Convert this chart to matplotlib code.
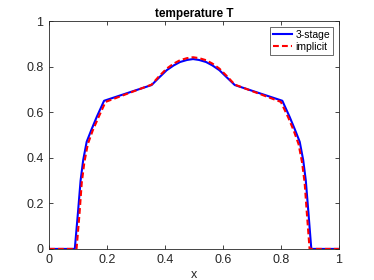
import matplotlib
matplotlib.use("Agg")
import matplotlib.pyplot as plt

# 3-stage solution (blue)
x_stage = [0.0, 0.089, 0.100, 0.109, 0.118, 0.130, 0.147, 0.165, 0.19, 0.354, 0.380,
           0.406, 0.430, 0.452, 0.476, 0.497, 0.518, 0.542, 0.564, 0.588, 0.614,
           0.641, 0.805, 0.830, 0.848, 0.865, 0.877, 0.886, 0.895, 0.905, 1.0]
t_stage = [0.0, 0.0, 0.16, 0.30, 0.39, 0.47, 0.525, 0.58, 0.65, 0.719, 0.752,
           0.784, 0.805, 0.820, 0.829, 0.833, 0.829, 0.820, 0.805, 0.784, 0.752,
           0.719, 0.65, 0.58, 0.525, 0.47, 0.39, 0.30, 0.16, 0.0, 0.0]

# implicit solution (red dashed)
x_impl = [0.0, 0.095, 0.105, 0.113, 0.122, 0.134, 0.151, 0.170, 0.195, 0.354, 0.380,
          0.406, 0.430, 0.452, 0.476, 0.497, 0.518, 0.542, 0.564, 0.588, 0.614,
          0.641, 0.800, 0.826, 0.844, 0.861, 0.873, 0.882, 0.890, 0.899, 1.0]
t_impl = [0.0, 0.0, 0.15, 0.29, 0.38, 0.46, 0.52, 0.575, 0.645, 0.721, 0.758,
          0.791, 0.813, 0.828, 0.837, 0.841, 0.837, 0.828, 0.813, 0.791, 0.758,
          0.721, 0.645, 0.575, 0.52, 0.46, 0.38, 0.29, 0.15, 0.0, 0.0]

ticks = [0, 0.2, 0.4, 0.6, 0.8, 1]
tick_labels = ["0", "0.2", "0.4", "0.6", "0.8", "1"]

plt.rcParams["font.family"] = ["Liberation Sans", "DejaVu Sans"]
axis_col = "#262626"

fig = plt.figure(figsize=(3.74, 2.8), dpi=100)
ax = fig.add_axes([0.131, 0.111, 0.775, 0.814])

ax.plot(x_stage, t_stage, color="#0000ff", lw=1.5, label="3-stage")
ax.plot(x_impl, t_impl, color="#ff0000", lw=1.5, ls=(0, (2.8, 1.5)), label="implicit")

ax.set_xlim(0, 1)
ax.set_ylim(0, 1)
ax.set_xticks(ticks)
ax.set_xticklabels(tick_labels)
ax.set_yticks(ticks)
ax.set_yticklabels(tick_labels)
ax.tick_params(direction="in", top=True, right=True, length=3, width=0.6,
               labelsize=9, colors=axis_col, pad=4)
for s in ax.spines.values():
    s.set_color(axis_col)
    s.set_linewidth(0.6)

ax.set_title("temperature T", fontsize=8.5, fontweight="bold", pad=3)
ax.set_xlabel("x", fontsize=9, color=axis_col, labelpad=1.5)

leg = ax.legend(loc="upper right", fontsize=7.5, frameon=True, fancybox=False,
                handlelength=1.8, borderpad=0.3, labelspacing=0.2, handletextpad=0.3,
                borderaxespad=0.55)
leg.get_frame().set_edgecolor(axis_col)
leg.get_frame().set_linewidth(0.6)

fig.savefig("out.png", dpi=100)
